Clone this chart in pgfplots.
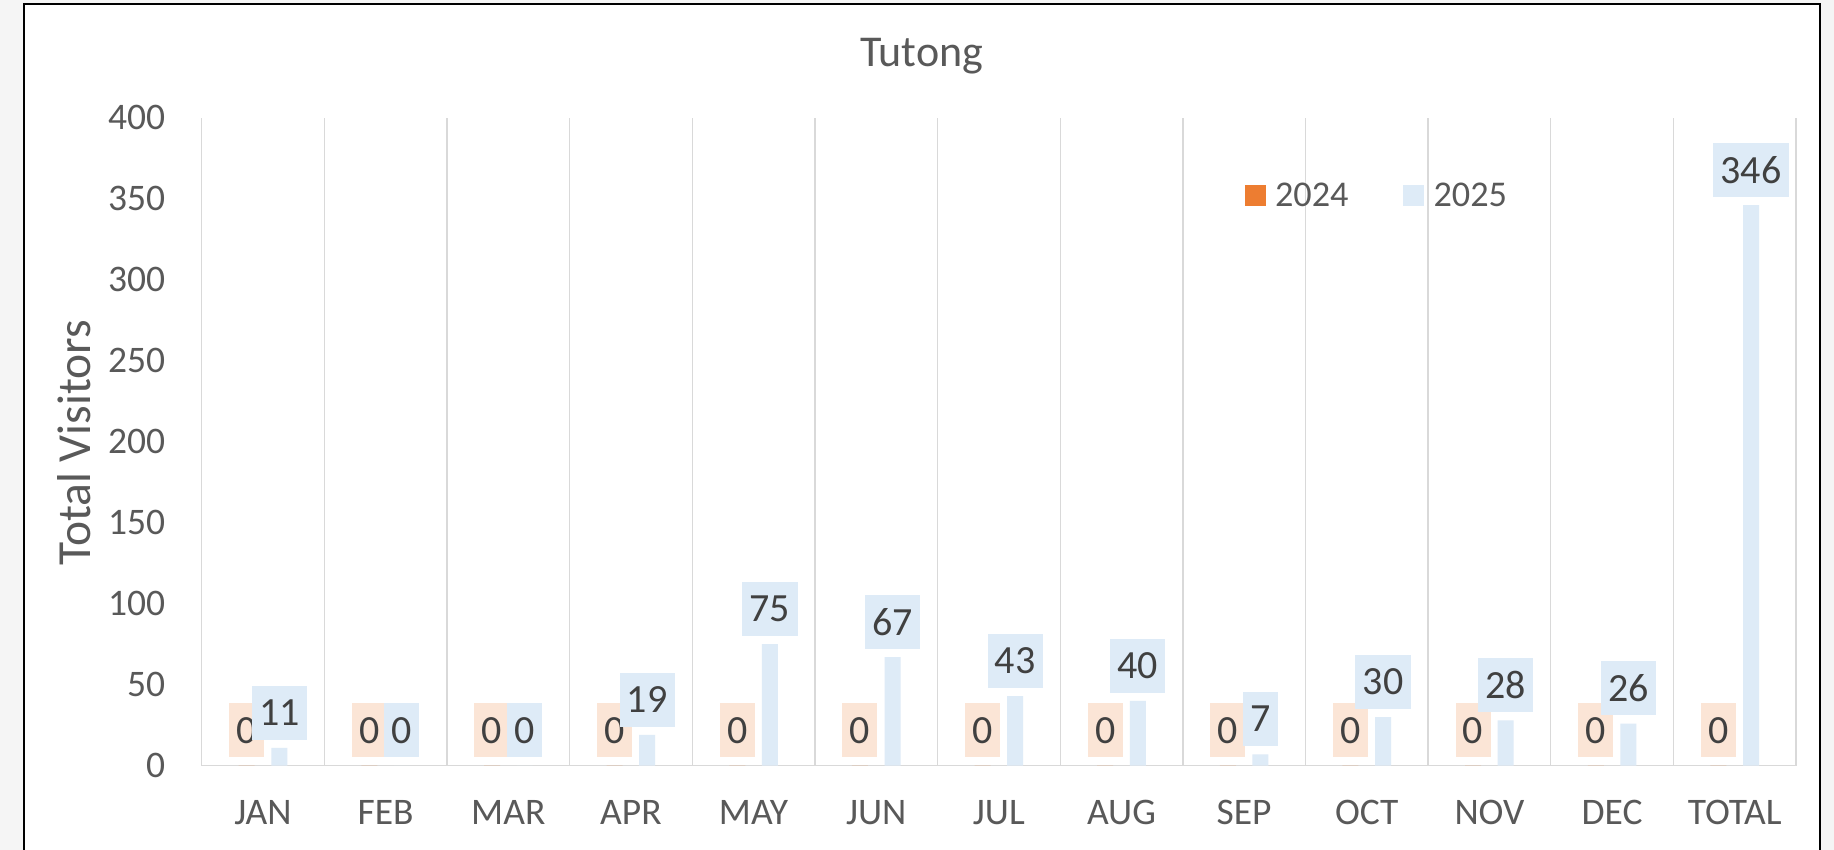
\documentclass[border=0pt]{standalone}
\usepackage{pgfplots}
\pgfplotsset{compat=1.18}
\usepackage{fontspec}
\setmainfont{Carlito}
\definecolor{orng}{HTML}{ED7D31}
\definecolor{orl}{HTML}{FBE5D6}
\definecolor{blu}{HTML}{DEEBF7}
\definecolor{txt}{HTML}{595959}
\definecolor{lab}{HTML}{404040}
\definecolor{grd}{HTML}{D9D9D9}
\begin{document}
\begin{tikzpicture}[x=0.4pt,y=0.4pt]
\useasboundingbox (0,0) rectangle (1834,850);
\fill[black!4] (0,0) rectangle (1834,850);
\fill[white] (24,-20) rectangle (1820,846);
\begin{axis}[
  at={(80.68pt,33.72pt)}, anchor=south west,
  scale only axis, width=637.72pt, height=259.2pt,
  xmin=-0.5, xmax=12.5, ymin=0, ymax=400,
  clip=false,
  axis x line*=bottom, axis y line*=left,
  y axis line style={draw=none},
  x axis line style={draw=grd, line width=0.6pt},
  xtick={0,...,12},
  xticklabels={JAN,FEB,MAR,APR,MAY,JUN,JUL,AUG,SEP,OCT,NOV,DEC,TOTAL},
  minor xtick={-0.5,0.5,1.5,2.5,3.5,4.5,5.5,6.5,7.5,8.5,9.5,10.5,11.5,12.5},
  xminorgrids=true,
  minor x grid style={draw=grd, line width=0.55pt},
  major tick length=0pt, minor tick length=0pt,
  ytick={0,50,...,400},
  /pgf/number format/assume math mode=true,
  tick label style={font=\fontsize{15}{18}\selectfont, text=txt},
  yticklabel style={anchor=east, inner sep=0pt, xshift=-14.4pt},
  xticklabel style={anchor=base, inner sep=0pt, yshift=-23.7pt},
  title={Tutong},
  title style={at={(axis description cs:0.4516,1.0787)}, anchor=base, yshift=-6pt, font=\fontsize{17.6}{20}\selectfont, text=txt, inner sep=0pt},
  ylabel={Total Visitors},
  ylabel style={at={(axis description cs:-0.07006,0.498)}, anchor=base, font=\fontsize{19}{22}\selectfont, text=txt, inner sep=0pt},
  legend columns=2,
  legend style={at={(axis description cs:0.6538,0.8776)}, anchor=west, draw=none, fill=none, inner sep=0pt,
    font=\fontsize{14.5}{17}\selectfont, text=txt,
    nodes={inner xsep=3.8pt, inner ysep=0pt},
    /tikz/every even column/.append style={column sep=18pt}},
]
\addplot[ybar, bar width=6.4pt, bar shift=-6.52pt, fill=orng, draw=none,
  legend image code/.code={\fill[orng] (0pt,-3.8pt) rectangle (8.4pt,4.6pt);},
  nodes near coords,
  every node near coord/.append style={fill=orl, text=lab, font=\fontsize{16}{19}\selectfont,
    inner xsep=2.95pt, inner ysep=0pt, minimum height=21.6pt, text depth=0pt, outer sep=0pt,
    anchor=south, yshift=3.32pt, xshift=-6.52pt}]
  coordinates {(0,0) (1,0) (2,0) (3,0) (4,0) (5,0) (6,0) (7,0) (8,0) (9,0) (10,0) (11,0) (12,0)};
\addlegendentry{2024}
\addplot[ybar, bar width=6.4pt, bar shift=6.52pt, fill=blu, draw=none,
  legend image code/.code={\fill[blu] (0pt,-3.8pt) rectangle (8.4pt,4.6pt);},
  nodes near coords,
  every node near coord/.append style={fill=blu, text=lab, font=\fontsize{16}{19}\selectfont,
    inner xsep=2.95pt, inner ysep=0pt, minimum height=21.6pt, text depth=0pt, outer sep=0pt,
    anchor=south, yshift=3.32pt, xshift=6.52pt}]
  coordinates {(0,11) (1,0) (2,0) (3,19) (4,75) (5,67) (6,43) (7,40) (8,7) (9,30) (10,28) (11,26) (12,346)};
\addlegendentry{2025}
\end{axis}
\draw[black, line width=0.8pt] (24.4,-20) -- (24.4,845.8) -- (1820,845.8) -- (1820,-20);
\end{tikzpicture}
\end{document}
